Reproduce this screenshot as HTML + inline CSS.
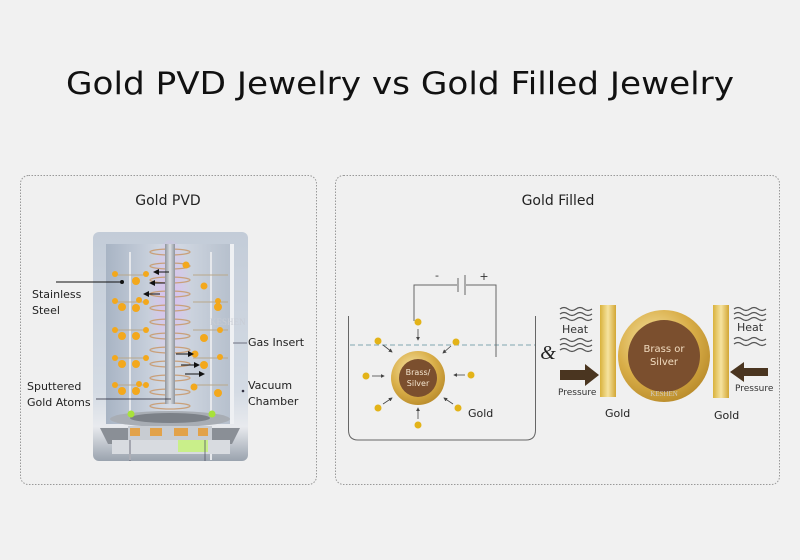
<!DOCTYPE html>
<html><head><meta charset="utf-8"><style>
html,body{margin:0;padding:0;background:#f1f1f1;}
svg{display:block;font-family:"DejaVu Sans","Liberation Sans",sans-serif;}
</style></head><body>
<svg width="800" height="560" viewBox="0 0 800 560" xmlns="http://www.w3.org/2000/svg">
<defs>
<linearGradient id="ch" x1="0" y1="0" x2="0" y2="1">
<stop offset="0" stop-color="#c3ccd8"/><stop offset="0.7" stop-color="#d4dbe4"/><stop offset="0.85" stop-color="#e8eaee"/><stop offset="1" stop-color="#9aa3ae"/></linearGradient>
<linearGradient id="inner" x1="0" y1="0" x2="1" y2="0">
<stop offset="0" stop-color="#a8b4c4"/><stop offset="0.5" stop-color="#d6dce6"/><stop offset="1" stop-color="#b5bfcc"/></linearGradient>
<linearGradient id="rod" x1="0" y1="0" x2="1" y2="0">
<stop offset="0" stop-color="#8e949c"/><stop offset="0.5" stop-color="#dcdfe4"/><stop offset="1" stop-color="#8e949c"/></linearGradient>
<radialGradient id="glow" cx="0.5" cy="0.4" r="0.5"><stop offset="0" stop-color="#d8b8f0" stop-opacity="0.9"/><stop offset="1" stop-color="#d8b8f0" stop-opacity="0"/></radialGradient>
<linearGradient id="bar" x1="0" y1="0" x2="1" y2="0">
<stop offset="0" stop-color="#d9b23c"/><stop offset="0.5" stop-color="#f6e3a0"/><stop offset="1" stop-color="#d2a634"/></linearGradient>
<radialGradient id="ring" cx="0.4" cy="0.35" r="0.7"><stop offset="0" stop-color="#f7e6a8"/><stop offset="0.6" stop-color="#d9ae48"/><stop offset="1" stop-color="#b88a2a"/></radialGradient>
<marker id="ah" markerWidth="6" markerHeight="6" refX="5" refY="3" orient="auto"><path d="M0,0 L6,3 L0,6z" fill="#111"/></marker>
<marker id="ah2" markerWidth="5" markerHeight="5" refX="4" refY="2.5" orient="auto"><path d="M0,0 L5,2.5 L0,5z" fill="#444"/></marker>
</defs>
<rect width="800" height="560" fill="#f1f1f1"/>
<text x="400" y="94" text-anchor="middle" font-size="31" fill="#111" textLength="668" lengthAdjust="spacingAndGlyphs">Gold PVD Jewelry vs Gold Filled Jewelry</text>

<rect x="20.5" y="175.5" width="296" height="309" rx="8" fill="#f0f0f0" stroke="#999" stroke-dasharray="1.5,1.5"/>
<rect x="335.5" y="175.5" width="444" height="309" rx="8" fill="#f0f0f0" stroke="#999" stroke-dasharray="1.5,1.5"/>
<text x="168" y="205" text-anchor="middle" font-size="14" fill="#222">Gold PVD</text>
<text x="558" y="205" text-anchor="middle" font-size="14" fill="#222">Gold Filled</text>

<!-- PVD chamber -->
<rect x="93" y="232" width="155" height="229" rx="6" fill="url(#ch)"/>
<rect x="106" y="244" width="127" height="180" fill="url(#inner)"/>
<rect x="230" y="244" width="4" height="180" fill="#eef0f3"/>
<ellipse cx="170" cy="310" rx="22" ry="70" fill="url(#glow)"/>
<g fill="none" stroke="#c9a07a" stroke-width="1.3">
<ellipse cx="170" cy="252" rx="20" ry="3"/><ellipse cx="170" cy="266" rx="20" ry="3"/><ellipse cx="170" cy="280" rx="20" ry="3"/><ellipse cx="170" cy="294" rx="20" ry="3"/><ellipse cx="170" cy="308" rx="20" ry="3"/><ellipse cx="170" cy="322" rx="20" ry="3"/><ellipse cx="170" cy="336" rx="20" ry="3"/><ellipse cx="170" cy="350" rx="20" ry="3"/><ellipse cx="170" cy="364" rx="20" ry="3"/><ellipse cx="170" cy="378" rx="20" ry="3"/><ellipse cx="170" cy="392" rx="20" ry="3"/><ellipse cx="170" cy="406" rx="20" ry="3"/>
</g>
<rect x="165" y="244" width="10" height="160" fill="url(#rod)"/>
<line x1="130" y1="252" x2="130" y2="460" stroke="#e6e8ec" stroke-width="2"/>
<line x1="211" y1="252" x2="211" y2="460" stroke="#e6e8ec" stroke-width="2"/>
<g stroke="#b9a88a" stroke-width="1"><line x1="113" y1="275" x2="148" y2="275"/><line x1="113" y1="302" x2="148" y2="302"/><line x1="113" y1="330" x2="148" y2="330"/><line x1="113" y1="358" x2="148" y2="358"/><line x1="113" y1="385" x2="148" y2="385"/><line x1="193" y1="275" x2="228" y2="275"/><line x1="193" y1="302" x2="228" y2="302"/><line x1="193" y1="330" x2="228" y2="330"/><line x1="193" y1="358" x2="228" y2="358"/><line x1="193" y1="385" x2="228" y2="385"/></g>
<g fill="#f3a81c">
<circle cx="115" cy="274" r="3"/><circle cx="136" cy="281" r="4"/><circle cx="146" cy="274" r="3"/>
<circle cx="115" cy="301" r="3"/><circle cx="122" cy="307" r="4"/><circle cx="136" cy="308" r="4"/><circle cx="139" cy="300" r="3"/><circle cx="146" cy="302" r="3"/>
<circle cx="115" cy="330" r="3"/><circle cx="122" cy="336" r="4"/><circle cx="136" cy="336" r="4"/><circle cx="146" cy="330" r="3"/>
<circle cx="115" cy="358" r="3"/><circle cx="122" cy="364" r="4"/><circle cx="136" cy="364" r="4"/><circle cx="146" cy="358" r="3"/>
<circle cx="115" cy="385" r="3"/><circle cx="122" cy="391" r="4"/><circle cx="136" cy="391" r="4"/><circle cx="139" cy="384" r="3"/><circle cx="146" cy="385" r="3"/>
<circle cx="186" cy="265" r="3.5"/><circle cx="204" cy="286" r="3.5"/><circle cx="218" cy="301" r="3"/><circle cx="218" cy="307" r="4"/>
<circle cx="204" cy="338" r="4"/><circle cx="220" cy="330" r="3"/><circle cx="195" cy="354" r="3.5"/><circle cx="220" cy="357" r="3"/><circle cx="204" cy="365" r="4"/>
<circle cx="194" cy="387" r="3.5"/><circle cx="218" cy="393" r="4"/>
</g>
<g fill="#8a8f96"><path d="M100 428 L240 428 L232 444 L108 444z"/></g>
<ellipse cx="170" cy="419" rx="60" ry="8" fill="#a8adb4"/>
<ellipse cx="170" cy="418" rx="40" ry="5" fill="#7c8188"/>
<rect x="128" y="426" width="84" height="14" fill="#c8ccd2"/>
<g fill="#e2a24a"><rect x="130" y="428" width="10" height="8"/><rect x="150" y="428" width="12" height="8"/><rect x="174" y="428" width="14" height="8"/><rect x="198" y="428" width="10" height="8"/></g>
<rect x="112" y="440" width="118" height="14" fill="#d8dbe0"/>
<rect x="178" y="440" width="30" height="12" fill="#c9ef8a"/>
<circle cx="131" cy="414" r="3.5" fill="#a8e23a"/><circle cx="212" cy="414" r="3.5" fill="#a8e23a"/>
<line x1="130" y1="440" x2="130" y2="461" stroke="#556" stroke-width="0.8"/>
<line x1="205" y1="440" x2="205" y2="461" stroke="#556" stroke-width="0.8"/>
<text x="210" y="325" font-family="Liberation Serif,serif" font-size="9" fill="#c8ccd4">KESHEN</text>
<g stroke="#111" stroke-width="1" marker-end="url(#ah)">
<line x1="169" y1="272" x2="154" y2="272"/><line x1="165" y1="283" x2="150" y2="283"/><line x1="160" y1="294" x2="144" y2="294"/>
<line x1="176" y1="354" x2="193" y2="354"/><line x1="181" y1="365" x2="199" y2="365"/><line x1="185" y1="374" x2="204" y2="374"/>
</g>
<line x1="56" y1="282" x2="122" y2="282" stroke="#111" stroke-width="1"/><circle cx="122" cy="282" r="2" fill="#111"/>
<line x1="96" y1="399" x2="171" y2="399" stroke="#223" stroke-width="0.8"/>
<line x1="233" y1="343" x2="247" y2="343" stroke="#556" stroke-width="0.8"/>
<circle cx="243" cy="391" r="1.3" fill="#334"/>
<g font-size="11" fill="#222">
<text x="32" y="298">Stainless</text><text x="32" y="314">Steel</text>
<text x="27" y="390">Sputtered</text><text x="27" y="406">Gold Atoms</text>
<text x="248" y="346">Gas Insert</text>
<text x="248" y="389">Vacuum</text><text x="248" y="405">Chamber</text>
</g>

<!-- Electroplating -->
<path d="M348.5 316 L348.5 430 Q348.5 440 358 440 L526 440 Q535.5 440 535.5 430 L535.5 316" fill="none" stroke="#666" stroke-width="1"/>
<line x1="350" y1="345" x2="535" y2="345" stroke="#7fa6b0" stroke-width="1" stroke-dasharray="5,3"/>
<polyline points="414,321 414,285 457,285" fill="none" stroke="#666"/>
<polyline points="466,285 496,285 496,357" fill="none" stroke="#666"/>
<line x1="458" y1="278" x2="458" y2="292" stroke="#666"/><line x1="465" y1="275" x2="465" y2="295" stroke="#666"/>
<text x="437" y="279" font-size="11" fill="#333" text-anchor="middle">-</text>
<text x="484" y="280" font-size="11" fill="#333" text-anchor="middle">+</text>
<circle cx="418" cy="378" r="27" fill="url(#ring)"/><circle cx="418" cy="378" r="19" fill="#7b4f2e"/>
<text x="418" y="375" text-anchor="middle" font-size="8" fill="#f4e6d0">Brass/</text>
<text x="418" y="386" text-anchor="middle" font-size="8" fill="#f4e6d0">Silver</text>
<g fill="#e3b318"><circle cx="418" cy="322" r="3.5"/><circle cx="378" cy="341" r="3.5"/><circle cx="456" cy="342" r="3.5"/><circle cx="366" cy="376" r="3.5"/><circle cx="471" cy="375" r="3.5"/><circle cx="378" cy="408" r="3.5"/><circle cx="458" cy="408" r="3.5"/><circle cx="418" cy="425" r="3.5"/></g>
<g stroke="#444" stroke-width="0.8" marker-end="url(#ah2)">
<line x1="418" y1="329" x2="418" y2="340"/><line x1="383" y1="345" x2="392" y2="352"/><line x1="451" y1="346" x2="443" y2="353"/>
<line x1="372" y1="376" x2="384" y2="376"/><line x1="465" y1="375" x2="454" y2="375"/>
<line x1="383" y1="404" x2="392" y2="398"/><line x1="453" y1="404" x2="444" y2="398"/><line x1="418" y1="419" x2="418" y2="408"/>
</g>
<text x="468" y="417" font-size="11" fill="#222">Gold</text>

<!-- Gold filled -->
<text x="548" y="359" font-family="Liberation Serif,serif" font-style="italic" font-size="20" fill="#222" text-anchor="middle">&amp;</text>
<g fill="none" stroke="#555" stroke-width="1.2">
<path d="M560 309 q4 -3 8 0 t8 0 t8 0 t8 0"/><path d="M560 314 q4 -3 8 0 t8 0 t8 0 t8 0"/><path d="M560 319 q4 -3 8 0 t8 0 t8 0 t8 0"/>
<path d="M560 340 q4 -3 8 0 t8 0 t8 0 t8 0"/><path d="M560 345 q4 -3 8 0 t8 0 t8 0 t8 0"/><path d="M560 350 q4 -3 8 0 t8 0 t8 0 t8 0"/>
<path d="M734 309 q4 -3 8 0 t8 0 t8 0 t8 0"/><path d="M734 314 q4 -3 8 0 t8 0 t8 0 t8 0"/><path d="M734 319 q4 -3 8 0 t8 0 t8 0 t8 0"/>
<path d="M734 339 q4 -3 8 0 t8 0 t8 0 t8 0"/><path d="M734 344 q4 -3 8 0 t8 0 t8 0 t8 0"/>
</g>
<text x="562" y="333" font-size="11" fill="#333">Heat</text>
<text x="737" y="331" font-size="11" fill="#333">Heat</text>
<path d="M560 370 L585 370 L585 364 L599 375 L585 386 L585 380 L560 380z" fill="#4a3520"/>
<path d="M768 368 L744 368 L744 362 L730 372 L744 382 L744 376 L768 376z" fill="#4a3520"/>
<text x="558" y="395" font-size="9" fill="#333">Pressure</text>
<text x="735" y="391" font-size="9" fill="#333">Pressure</text>
<rect x="600" y="305" width="16" height="92" fill="url(#bar)"/>
<rect x="713" y="305" width="16" height="93" fill="url(#bar)"/>
<circle cx="664" cy="356" r="46" fill="url(#ring)"/><circle cx="664" cy="356" r="36" fill="#7b4f2e"/>
<text x="664" y="352" text-anchor="middle" font-size="10" fill="#f1dcc0">Brass or</text>
<text x="664" y="365" text-anchor="middle" font-size="10" fill="#f1dcc0">Silver</text>
<text x="664" y="396" text-anchor="middle" font-family="Liberation Serif,serif" font-size="7" fill="#cfc8bc">KESHEN</text>
<text x="605" y="417" font-size="11" fill="#222">Gold</text>
<text x="714" y="419" font-size="11" fill="#222">Gold</text>
</svg>
</body></html>
